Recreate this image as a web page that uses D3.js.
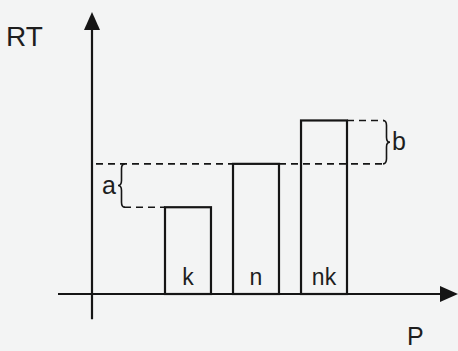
<!DOCTYPE html>
<html>
<head>
<meta charset="utf-8">
<script src="https://cdn.jsdelivr.net/npm/d3@7"></script>
<style>
    body { margin: 0; background: #f3f4f4; }
    text { font-family: "Liberation Sans", Arial, sans-serif; fill: #1e1e1e; }
</style>
</head>
<body>
<div id="chart"></div>
<script>
// bar categories and their heights (arbitrary RT units)
let categories = ["k", "n", "nk"];
let values = [2, 3, 4];
// bracket annotations: label, from value, to value
let gapLabels = ["a", "b"];
let gapFrom = [2, 3];
let gapTo = [3, 4];

let width = 458, height = 351;

let svg = d3.select("#chart").append("svg")
    .attr("width", width)
    .attr("height", height);

let x = d3.scaleBand()
    .domain(categories)
    .range([165, 347])
    .paddingInner(0.324)
    .paddingOuter(0);

let y = d3.scaleLinear()
    .domain([0, 6.5])
    .range([294, 12]);

let axisX = 92;
let ink = "#151515";

// y axis with arrow
svg.append("line")
    .attr("x1", axisX).attr("x2", axisX)
    .attr("y1", y(-0.58)).attr("y2", y(6.1))
    .style("stroke", ink).style("stroke-width", 2.2);
svg.append("path")
    .attr("d", "M" + axisX + "," + y(6.5) + " L" + (axisX - 8) + "," + (y(6.5) + 18) +
        " L" + (axisX + 8) + "," + (y(6.5) + 18) + " Z")
    .style("fill", ink);

// x axis with arrow
svg.append("line")
    .attr("x1", 58).attr("x2", 444)
    .attr("y1", y(0)).attr("y2", y(0))
    .style("stroke", ink).style("stroke-width", 2.2);
svg.append("path")
    .attr("d", "M458," + y(0) + " L440," + (y(0) - 8) + " L440," + (y(0) + 8) + " Z")
    .style("fill", ink);

// bars
svg.selectAll("rect.bar")
    .data(categories)
    .enter()
    .append("rect")
    .attr("class", "bar")
    .attr("x", d => x(d))
    .attr("width", x.bandwidth())
    .attr("y", (d, i) => y(values[i]))
    .attr("height", (d, i) => y(0) - y(values[i]))
    .style("fill", "none")
    .style("stroke", ink)
    .style("stroke-width", 2.2);

svg.selectAll("text.bar-label")
    .data(categories)
    .enter()
    .append("text")
    .attr("class", "bar-label")
    .attr("x", d => x(d) + x.bandwidth() / 2)
    .attr("y", y(0) - 9)
    .attr("text-anchor", "middle")
    .style("font-size", "23px")
    .text(d => d);

// dashed reference lines
let dash = "7 5";
svg.append("line")
    .attr("x1", axisX + 4).attr("x2", x("n"))
    .attr("y1", y(values[0] + 1)).attr("y2", y(values[0] + 1))
    .style("stroke", ink).style("stroke-width", 1.6).style("stroke-dasharray", dash);
svg.append("line")
    .attr("x1", x("n") + x.bandwidth()).attr("x2", 384)
    .attr("y1", y(values[1])).attr("y2", y(values[1]))
    .style("stroke", ink).style("stroke-width", 1.6).style("stroke-dasharray", dash);
svg.append("line")
    .attr("x1", 124).attr("x2", x("k"))
    .attr("y1", y(values[0])).attr("y2", y(values[0]))
    .style("stroke", ink).style("stroke-width", 1.6).style("stroke-dasharray", dash);
svg.append("line")
    .attr("x1", x("nk") + x.bandwidth()).attr("x2", 384)
    .attr("y1", y(values[2])).attr("y2", y(values[2]))
    .style("stroke", ink).style("stroke-width", 1.6).style("stroke-dasharray", dash);

// curly brace: ends at bx, tip at bx + dir * d
function brace(bx, y1, y2, dir) {
    let d = 7, h = d / 2 * dir, r = 5;
    let ym = (y1 + y2) / 2;
    return "M" + bx + "," + y1 +
        " Q" + (bx + h) + "," + y1 + " " + (bx + h) + "," + (y1 + r) +
        " L" + (bx + h) + "," + (ym - r) +
        " Q" + (bx + h) + "," + ym + " " + (bx + dir * d) + "," + ym +
        " Q" + (bx + h) + "," + ym + " " + (bx + h) + "," + (ym + r) +
        " L" + (bx + h) + "," + (y2 - r) +
        " Q" + (bx + h) + "," + y2 + " " + bx + "," + y2;
}

let braceX = [125, 383];
let braceDir = [-1, 1];
gapLabels.forEach(function(label, i) {
    svg.append("path")
        .attr("d", brace(braceX[i], y(gapTo[i]), y(gapFrom[i]), braceDir[i]))
        .style("fill", "none")
        .style("stroke", ink)
        .style("stroke-width", 1.6);
    let ym = (y(gapTo[i]) + y(gapFrom[i])) / 2;
    svg.append("text")
        .attr("x", braceX[i] + braceDir[i] * 9)
        .attr("y", ym + 8)
        .attr("text-anchor", braceDir[i] < 0 ? "end" : "start")
        .style("font-size", "25px")
        .text(label);
});

// axis titles
svg.append("text")
    .attr("x", 6)
    .attr("y", 46)
    .style("font-size", "28px")
    .text("RT");

svg.append("text")
    .attr("x", 407)
    .attr("y", 345)
    .style("font-size", "25px")
    .text("P");
</script>
</body>
</html>
